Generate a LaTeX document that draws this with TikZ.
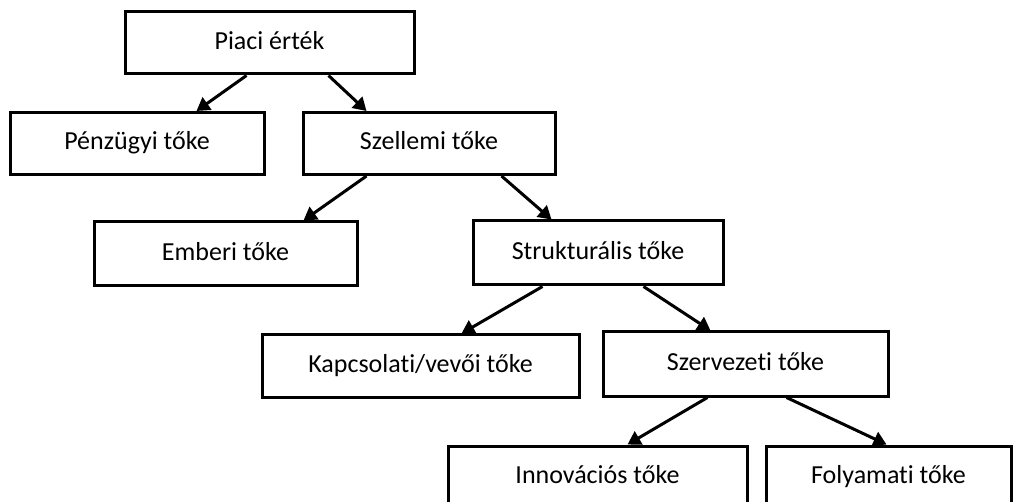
\documentclass[tikz,border=0pt]{standalone}
\usepackage{fontspec}
\setmainfont{Carlito}[Ligatures=NoCommon]
\usetikzlibrary{arrows.meta,calc}
\begin{document}
\begin{tikzpicture}[x=1pt,y=-1pt,
  box/.style={draw,line width=3pt,minimum height=62pt,inner sep=0pt,
    text height=18pt,text depth=5pt,
    font=\fontsize{26}{31}\selectfont},
  arr/.style={line width=3pt,-{Triangle[length=13pt,width=15pt]}}]
\useasboundingbox (0,0) rectangle (1014,502);
\clip (0,0) rectangle (1014,502);

% boxes of the value tree
\node[box,minimum width=289pt] (piaci)  at (269.5,43)  {Piaci érték};
\node[box,minimum width=254pt] (penz)   at (137,143.5) {Pénzügyi tőke};
\node[box,minimum width=252pt] (szell)  at (429,143.5) {Szellemi tőke};
\node[box,minimum width=263pt,minimum height=64pt] (ember) at (225.5,254) {Emberi tőke};
\node[box,minimum width=250pt,minimum height=64pt] (strukt) at (598,253) {Strukturális tőke};
\node[box,minimum width=317pt] (kapcs)  at (420.5,366) {Kapcsolati/vevői tőke};
\node[box,minimum width=285pt,minimum height=64pt] (szerv) at (745.5,364) {Szervezeti tőke};
\node[box,minimum width=299pt] (innov)  at (597.5,477) {Innovációs tőke};
\node[box,minimum width=245pt] (foly)   at (888.5,477) {Folyamati tőke};

% arrows from parent to child
\draw[arr] ($(piaci.south west)+(123,0)$) -- ($(penz.north west)+(188,0)$);
\draw[arr] ($(piaci.south west)+(205,0)$) -- ($(szell.north west)+(65,0)$);
\draw[arr] ($(szell.south west)+(65,0)$)  -- ($(ember.north west)+(211,0)$);
\draw[arr] ($(szell.south west)+(200,0)$) -- ($(strukt.north west)+(80,0)$);
\draw[arr] ($(strukt.south west)+(71,0)$) -- ($(kapcs.north west)+(201,0)$);
\draw[arr] ($(strukt.south west)+(172,0)$) -- ($(szerv.north west)+(109,0)$);
\draw[arr] ($(szerv.south west)+(106,0)$) -- ($(innov.north west)+(181,0)$);
\draw[arr] ($(szerv.south west)+(185,0)$) -- ($(foly.north west)+(122,0)$);
\end{tikzpicture}
\end{document}
